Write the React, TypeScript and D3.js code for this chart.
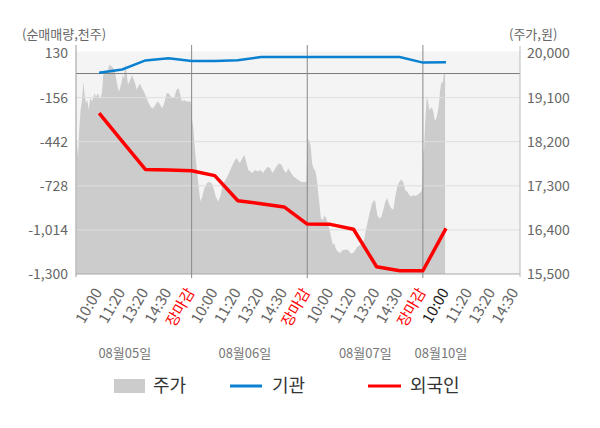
import React from 'react';
import * as d3 from 'd3';

// x positions are in "slot" units: one slot per time label, day boundary every 5 slots
const slotLabels = [
  '10:00', '11:20', '13:20', '14:30', '장마감',
  '10:00', '11:20', '13:20', '14:30', '장마감',
  '10:00', '11:20', '13:20', '14:30', '장마감',
  '10:00', '11:20', '13:20', '14:30',
];
const currentSlot = 16; // 08/10 10:00, drawn darker
const dayLabels = ['08월05일', '08월06일', '08월07일', '08월10일'];
const dayLabelAt = [2.11, 7.3, 12.51, 15.78];
const daySeparators = [5, 10, 15];

// net buying (thousand shares), one value per slot 1..16
const institution = [5, 26, 85, 99, 81, 81, 86, 107, 107, 107, 107, 107, 107, 107, 71, 73];
const foreign = [-256, -440, -622, -626, -630, -662, -825, -844, -865, -976, -978, -1010, -1253, -1279, -1279, -1004];

const volumeTicks = [130, -156, -442, -728, -1014, -1300];
const priceTicks = [20000, 19100, 18200, 17300, 16400, 15500];

// stock price [slot position, won]
const pricePoints: [number, number][] = [
  [0.03, 18280], [0.09, 17890], [0.14, 18440], [0.2, 18850], [0.26, 19050], [0.32, 19420],
  [0.38, 19120], [0.43, 18990], [0.49, 19050], [0.55, 18850], [0.61, 19090], [0.69, 19020],
  [0.81, 19190], [0.86, 19110], [0.95, 19190], [1.04, 19070], [1.12, 19190], [1.18, 19560],
  [1.24, 19600], [1.33, 19560], [1.44, 19770], [1.56, 19730], [1.67, 19660], [1.76, 19420],
  [1.85, 19220], [1.9, 19290], [1.96, 19390], [2.02, 19560], [2.08, 19490], [2.13, 19800],
  [2.19, 19600], [2.25, 19360], [2.34, 19460], [2.42, 19560], [2.48, 19490], [2.56, 19390],
  [2.62, 19260], [2.77, 19390], [2.85, 19290], [2.94, 19220], [3.03, 19120], [3.11, 19020],
  [3.23, 18910], [3.32, 18880], [3.43, 18950], [3.52, 19020], [3.63, 18970], [3.72, 18880],
  [3.81, 18980], [3.92, 19190], [4.01, 19190], [4.1, 19120], [4.24, 19090], [4.35, 19260],
  [4.44, 19290], [4.58, 19020], [4.67, 19050], [4.79, 19020], [4.96, 19020],
  [5.02, 18640], [5.06, 18540], [5.12, 18170], [5.2, 17760], [5.26, 17490], [5.32, 17210],
  [5.38, 16980], [5.46, 17080], [5.55, 17250], [5.66, 17350], [5.75, 17380], [5.87, 17350],
  [5.95, 17250], [6.04, 17080], [6.15, 16980], [6.24, 17080], [6.33, 17280], [6.41, 17380],
  [6.5, 17450], [6.62, 17560], [6.73, 17690], [6.88, 17830], [6.96, 17860], [7.08, 17760],
  [7.19, 17860], [7.28, 17930], [7.36, 17790], [7.45, 17620], [7.54, 17590], [7.62, 17560],
  [7.74, 17620], [7.86, 17590], [7.97, 17620], [8.09, 17560], [8.17, 17620], [8.29, 17690],
  [8.4, 17660], [8.49, 17560], [8.58, 17620], [8.66, 17690], [8.78, 17760], [8.9, 17720],
  [8.98, 17620], [9.09, 17560], [9.18, 17660], [9.3, 17560], [9.41, 17490], [9.53, 17450],
  [9.61, 17420], [9.76, 17380], [9.96, 17380],
  [10.02, 18230], [10.07, 18250], [10.15, 18100], [10.21, 17760], [10.27, 17660], [10.36, 17590],
  [10.42, 17420], [10.47, 17180], [10.54, 16870], [10.59, 16640], [10.68, 16600], [10.74, 16700],
  [10.82, 16640], [10.89, 16530], [10.97, 16400], [11.03, 16260], [11.11, 16090], [11.17, 16130],
  [11.23, 16020], [11.32, 15960], [11.44, 15930], [11.5, 15980], [11.59, 15990], [11.71, 16000],
  [11.79, 15980], [11.88, 15920], [11.99, 15930], [12.08, 15990], [12.16, 16050], [12.28, 16090],
  [12.37, 16130], [12.45, 16190], [12.54, 16400], [12.63, 16600], [12.71, 16770], [12.8, 16940],
  [12.89, 17010], [12.94, 16980], [13.03, 16700], [13.12, 16640], [13.2, 16660], [13.29, 16810],
  [13.38, 16980], [13.46, 17050], [13.55, 16910], [13.63, 16840], [13.72, 16810], [13.81, 17080],
  [13.89, 17280], [13.98, 17380], [14.07, 17430], [14.15, 17380], [14.24, 17210], [14.33, 17180],
  [14.41, 17110], [14.5, 17080], [14.59, 17110], [14.67, 17090], [14.76, 17110], [14.85, 17150],
  [14.93, 17180], [14.98, 17280],
  [15.02, 18000], [15.05, 18030], [15.1, 18580], [15.17, 19130], [15.22, 19020], [15.28, 18850],
  [15.34, 18880], [15.39, 18910], [15.45, 18810], [15.51, 18640], [15.57, 18660], [15.62, 18750],
  [15.68, 18910], [15.74, 19220], [15.8, 19420], [15.86, 19400], [15.91, 19600], [15.96, 19600],
];

const W = 600;
const H = 428;
const FONT = "'Noto Sans CJK KR', 'Noto Sans', sans-serif";

export default function App() {
  const left = 76, right = 520, top = 53.5, bottom = 274;

  const x = d3.scaleLinear().domain([0, 19.2]).range([left, right]);
  const yVol = d3.scaleLinear().domain([-1300, 130]).range([bottom, top]);
  const yPrice = d3.scaleLinear().domain([15500, 20000]).range([bottom, top]);

  const area = d3.area<[number, number]>()
    .x(d => x(d[0]))
    .y0(yPrice(15500))
    .y1(d => yPrice(d[1]));

  const flowLine = d3.line<number>()
    .x((_, i) => x(i + 1))
    .y(d => yVol(d));

  return (
    <svg width={W} height={H} style={{ position: 'absolute', left: 0, top: 0 }} fontFamily={FONT}>
      <rect width={W} height={H} fill="#fff" />

      {/* plot background */}
      <rect x={left} y={51.5} width={right - left} height={bottom - 51.5} fill="#f4f4f4" />

      {/* price area */}
      <path d={area(pricePoints) || ''} fill="#cccccc" />

      {/* gridlines */}
      {volumeTicks.slice(1, -1).map(t => (
        <line key={t} x1={left} x2={right} y1={yVol(t)} y2={yVol(t)} stroke="#dedede" strokeWidth={1} />
      ))}
      <line x1={left} x2={right} y1={yVol(0)} y2={yVol(0)} stroke="#7a7a7a" strokeWidth={1} />

      {/* axes frame */}
      <line x1={left} x2={right} y1={bottom} y2={bottom} stroke="#aaa" />
      <line x1={left} x2={left} y1={45} y2={bottom + 3} stroke="#999" />
      <line x1={right} x2={right} y1={46} y2={bottom + 3} stroke="#bbb" />
      {daySeparators.map(s => (
        <line key={s} x1={x(s)} x2={x(s)} y1={45} y2={bottom + 4} stroke="#888" />
      ))}

      {/* flows */}
      <path d={flowLine(institution) || ''} fill="none" stroke="#0a80d0" strokeWidth={2.5} />
      <path d={flowLine(foreign) || ''} fill="none" stroke="#ff0000" strokeWidth={3.5} strokeLinejoin="round" />

      {/* axis titles */}
      <text x={22} y={38.5} fontSize={13} fill="#666">(순매매량,천주)</text>
      <text x={509} y={38.5} fontSize={13} fill="#666">(주가,원)</text>

      {/* left ticks */}
      {volumeTicks.map(t => (
        <text key={t} x={68} y={yVol(t)} dy="0.35em" textAnchor="end" fontSize={14} fill="#666">
          {t.toLocaleString('en-US')}
        </text>
      ))}
      {/* right ticks */}
      {priceTicks.map(t => (
        <text key={t} x={527} y={yPrice(t)} dy="0.35em" fontSize={14} fill="#666">
          {t.toLocaleString('en-US')}
        </text>
      ))}

      {/* x labels */}
      {slotLabels.map((lab, i) => {
        const u = i + 1;
        const color = lab === '장마감' ? '#ff0000' : u === currentSlot ? '#222' : '#666';
        return (
          <text key={i} transform={`translate(${x(u) + 3.5},292) rotate(-60)`} textAnchor="end" fontSize={15} fill={color}>
            {lab}
          </text>
        );
      })}
      {dayLabels.map((lab, i) => (
        <text key={lab} x={x(dayLabelAt[i])} y={358} textAnchor="middle" fontSize={13} fill="#777">
          {lab}
        </text>
      ))}

      {/* legend */}
      <rect x={114} y={379} width={31} height={14} fill="#cccccc" />
      <text x={153} y={392} fontSize={18} fill="#333">주가</text>
      <line x1={230} x2={262} y1={386} y2={386} stroke="#0a80d0" strokeWidth={3} />
      <text x={272} y={392} fontSize={18} fill="#333">기관</text>
      <line x1={368} x2={401} y1={386} y2={386} stroke="#ff0000" strokeWidth={3} />
      <text x={410} y={392} fontSize={18} fill="#333">외국인</text>
    </svg>
  );
}
